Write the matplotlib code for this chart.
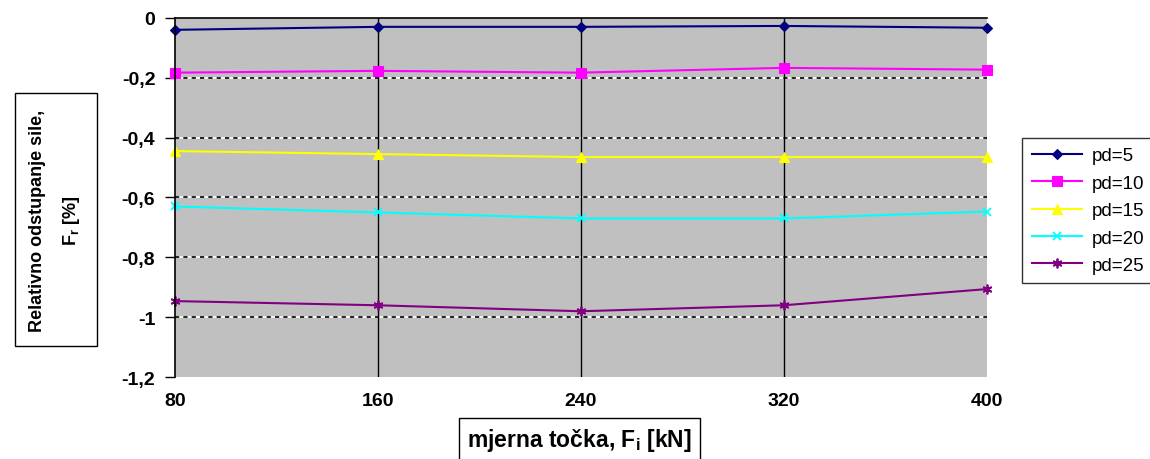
import matplotlib
matplotlib.use('Agg')
import matplotlib.pyplot as plt

plt.rcParams['font.family'] = ['Liberation Sans', 'DejaVu Sans']
plt.rcParams['mathtext.fontset'] = 'custom'
plt.rcParams['mathtext.rm'] = 'Liberation Sans:bold'
plt.rcParams['mathtext.bf'] = 'Liberation Sans:bold'

# mjerne tocke [kN]
tocke = [80, 160, 240, 320, 400]
pd5 = [-0.040, -0.030, -0.030, -0.027, -0.033]
pd10 = [-0.183, -0.177, -0.183, -0.167, -0.173]
pd15 = [-0.445, -0.455, -0.465, -0.465, -0.465]
pd20 = [-0.630, -0.650, -0.670, -0.670, -0.647]
pd25 = [-0.946, -0.960, -0.980, -0.960, -0.906]
oznake = ['pd=5', 'pd=10', 'pd=15', 'pd=20', 'pd=25']
y_ticks = [0, -0.2, -0.4, -0.6, -0.8, -1.0, -1.2]
y_labels = ['0', '-0,2', '-0,4', '-0,6', '-0,8', '-1', '-1,2']

serije = [pd5, pd10, pd15, pd20, pd25]
boje = ['#000080', '#FF00FF', '#FFFF00', '#00FFFF', '#800080']
markeri = ['D', 's', '^', 'x', (6, 2, 0)]
msize = [5, 7, 7, 6, 7]

fig = plt.figure(figsize=(11.5, 4.6), dpi=100)
ax = fig.add_axes([0.152, 0.178, 0.706, 0.781])
ax.set_facecolor('#C0C0C0')

# horizontalna mreza (crne crtice na bijelom)
for y in y_ticks[1:-1]:
    ax.axhline(y, color='white', lw=1.2, zorder=1)
    ax.axhline(y, color='black', lw=1.2, ls=(0, (2.5, 2.5)), zorder=1)
for x in tocke[1:-1]:
    ax.axvline(x, color='black', lw=1, zorder=1)

for s, c, m, ms, lab in zip(serije, boje, markeri, msize, oznake):
    ax.plot(tocke, s, color=c, marker=m, markersize=ms, lw=1.5,
            label=lab, clip_on=False, zorder=3,
            markeredgewidth=1.3 if m in ('x', (6, 2, 0)) else 0.8)

ax.set_xlim(80, 400)
ax.set_ylim(-1.2, 0)
ax.set_yticks(y_ticks)
ax.set_yticklabels(y_labels, fontsize=14, fontweight='bold')
ax.set_xticks(tocke)
ax.set_xticklabels([str(t) for t in tocke], fontsize=14, fontweight='bold')
ax.tick_params(axis='x', length=0, pad=11)
ax.tick_params(axis='y', length=7, width=1, direction='out', pad=7)

for side in ['right', 'bottom']:
    ax.spines[side].set_visible(False)
ax.spines['top'].set_linewidth(1.2)
ax.spines['left'].set_linewidth(1.2)
ax.spines['left'].set_zorder(4)

fig.text(0.048, 0.52, 'Relativno odstupanje sile,\nF$_{\\mathregular{r}}$ [%]',
         rotation=90, ha='center', va='center', fontsize=13,
         fontweight='bold', linespacing=2.0, multialignment='center',
         bbox=dict(boxstyle='square,pad=0.85', facecolor='white', edgecolor='black', lw=1))
fig.text(0.504, 0.043, 'mjerna točka, F$_{\\mathregular{i}}$ [kN]', ha='center', va='center',
         fontsize=16.5, fontweight='bold',
         bbox=dict(boxstyle='square,pad=0.35', facecolor='white', edgecolor='black', lw=1))

leg = fig.legend(loc='center', bbox_to_anchor=(0.946, 0.54), fontsize=13.5,
                 frameon=True, fancybox=False, edgecolor='black',
                 handlelength=2.7, labelspacing=0.55, borderpad=0.5,
                 handletextpad=0.5, borderaxespad=0)
leg.get_frame().set_linewidth(1)

fig.savefig('out.png', dpi=100)
